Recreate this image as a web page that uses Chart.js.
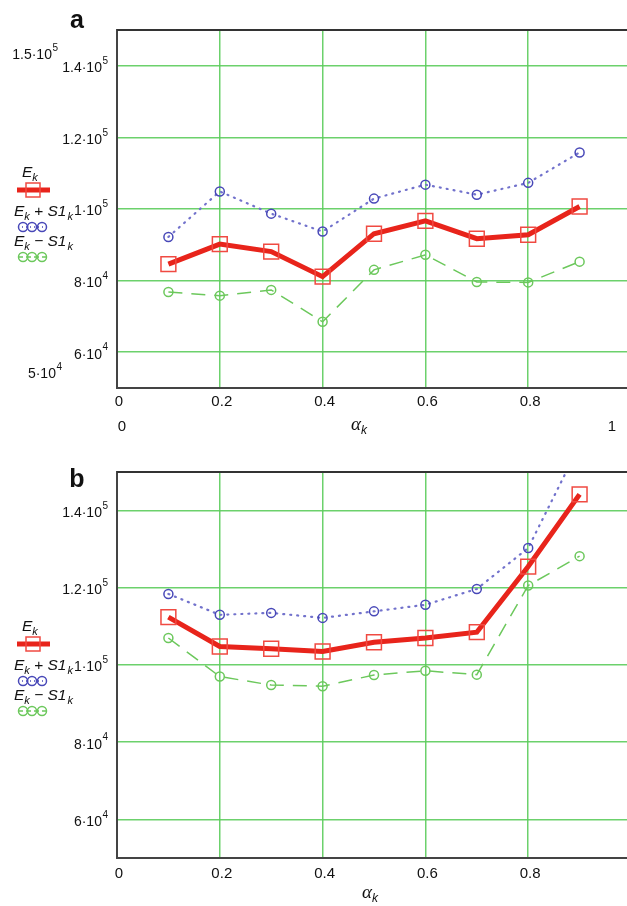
<!DOCTYPE html>
<html>
<head>
<meta charset="utf-8">
<script src="https://cdn.jsdelivr.net/npm/chart.js@4.4.1/dist/chart.umd.min.js"></script>
<style>
  html, body { margin: 0; padding: 0; background: #fff; overflow: hidden; width: 627px; height: 906px; }
  canvas { position: absolute; left: 0; }
  #chartA { top: 0; }
  #chartB { top: 445px; }
</style>
</head>
<body>
<canvas id="chartA" width="643" height="445"></canvas>
<canvas id="chartB" width="643" height="461"></canvas>
<script>
// alpha_k values (x) shared by both panels
const alphaK = [0.1, 0.2, 0.3, 0.4, 0.5, 0.6, 0.7, 0.8, 0.9];

// panel a
const ekA      = [84600, 90200, 88100, 81100, 93100, 96700, 91700, 92800, 100700];
const ekPlusA  = [92200, 104900, 98700, 93700, 102900, 106800, 104000, 107300, 115800];
const ekMinusA = [76800, 75800, 77400, 68500, 83000, 87200, 79600, 79500, 85300];

// panel b
const ekB      = [112400, 104800, 104200, 103500, 105900, 107000, 108500, 125500, 144200];
const ekPlusB  = [118400, 113000, 113500, 112200, 113900, 115600, 119700, 130300, 157000];
const ekMinusB = [107000, 97000, 94800, 94500, 97400, 98500, 97500, 120600, 128200];

const yTicks = [60000, 80000, 100000, 120000, 140000];
const xGridTicks = [0.2, 0.4, 0.6, 0.8];
const xLabelTicks = [0, 0.2, 0.4, 0.6, 0.8];

const SANS = '"Liberation Sans", Arial, sans-serif';
const RED = '#e8241b';
const BLUE = '#4848b8';
const GREEN = '#6cc85c';

function pts(vals) {
  return alphaK.map((x, i) => ({ x: x, y: vals[i] }));
}

// draws a run of text pieces (font changes, sub/superscripts) from x, middle baseline
function richText(ctx, x, y, parts) {
  ctx.textAlign = 'left';
  ctx.textBaseline = 'middle';
  parts.forEach(p => {
    ctx.font = p.f;
    ctx.fillText(p.t, x, y + (p.dy || 0));
    x += ctx.measureText(p.t).width + (p.gap || 0);
  });
}

// value like 1.4e5 -> "1.4·10" with raised "5", right aligned at xRight
function powLabel(ctx, value, xRight, yc) {
  const exp = Math.floor(Math.log10(value) + 1e-9);
  const mant = +(value / Math.pow(10, exp)).toFixed(2);
  ctx.textBaseline = 'middle';
  ctx.textAlign = 'right';
  ctx.font = '10px ' + SANS;
  const ew = ctx.measureText(String(exp)).width;
  ctx.fillText(String(exp), xRight, yc - 7);
  ctx.font = '14px ' + SANS;
  ctx.fillText(mant + '\u00b7' + '10', xRight - ew - 0.5, yc);
}

function ekParts(op) {
  const big = 'italic 15.5px ' + SANS, small = 'italic 11px ' + SANS;
  const parts = [{ t: 'E', f: big }, { t: 'k', f: small, dy: 5 }];
  if (op) {
    parts.push({ t: ' ' + op + ' ', f: '15.5px ' + SANS });
    parts.push({ t: 'S1', f: big, gap: 1 });
    parts.push({ t: 'k', f: small, dy: 5 });
  }
  return parts;
}

function legendCircles(ctx, y, color, dash) {
  ctx.save();
  ctx.strokeStyle = color;
  ctx.lineWidth = 1.5;
  ctx.setLineDash(dash);
  ctx.beginPath(); ctx.moveTo(18, y); ctx.lineTo(46, y); ctx.stroke();
  ctx.setLineDash([]);
  [23, 32, 42].forEach(cx => {
    ctx.beginPath(); ctx.arc(cx, y, 4.5, 0, Math.PI * 2); ctx.stroke();
  });
  ctx.restore();
}

const mathcadText = {
  id: 'mathcadText',
  afterDraw(chart, args, o) {
    const ctx = chart.ctx;
    const area = chart.chartArea;
    const xs = chart.scales.x, ys = chart.scales.y;
    ctx.save();

    // top frame line
    ctx.strokeStyle = '#333';
    ctx.lineWidth = 2;
    ctx.beginPath(); ctx.moveTo(area.left, area.top); ctx.lineTo(area.right, area.top); ctx.stroke();

    ctx.fillStyle = '#111';
    // y tick labels
    yTicks.forEach(v => powLabel(ctx, v, 108, ys.getPixelForValue(v) + 2.5));
    if (o.ranges) {
      powLabel(ctx, ys.max, 58, area.top + 25);
      powLabel(ctx, ys.min, 62, area.bottom - 14);
    }

    // x tick labels
    ctx.font = '15px ' + SANS;
    ctx.textAlign = 'center';
    ctx.textBaseline = 'middle';
    xLabelTicks.forEach(v => ctx.fillText(String(v), xs.getPixelForValue(v) + 2, area.bottom + o.xLabelDy));
    if (o.ranges) {
      ctx.fillText('0', 122, area.bottom + 39);
      ctx.fillText('1', 612, area.bottom + 39);
    }

    // axis title alpha_k
    richText(ctx, o.alphaX, area.bottom + o.alphaDy, [
      { t: '\u03b1', f: 'italic 19px "Liberation Serif", serif' },
      { t: 'k', f: 'italic 12px ' + SANS, dy: 6 }
    ]);

    // panel letter
    ctx.font = 'bold 25px ' + SANS;
    ctx.textAlign = 'center';
    ctx.textBaseline = 'alphabetic';
    ctx.fillText(o.letter, 77, o.letterY);

    // legend
    const L = o.legendY;
    ctx.fillStyle = '#111';
    richText(ctx, 22, L, ekParts(null));
    ctx.strokeStyle = RED;
    ctx.lineWidth = 5;
    ctx.beginPath(); ctx.moveTo(17, L + 17); ctx.lineTo(50, L + 17); ctx.stroke();
    ctx.strokeStyle = '#f04a42';
    ctx.lineWidth = 1.5;
    ctx.strokeRect(26, L + 10, 14, 14);

    richText(ctx, 14, L + 39, ekParts('+'));
    legendCircles(ctx, L + 54, BLUE, [1, 3]);
    richText(ctx, 14, L + 69, ekParts('\u2212'));
    legendCircles(ctx, L + 84, GREEN, [5, 3]);

    ctx.restore();
  }
};

function makeChart(id, ek, ekPlus, ekMinus, cfg) {
  return new Chart(document.getElementById(id), {
    type: 'line',
    data: {
      datasets: [{
        label: 'E_k',
        data: pts(ek),
        borderColor: RED,
        borderWidth: 5,
        pointStyle: 'rect',
        pointRadius: 10.5,
        pointBorderColor: '#f04a42',
        pointBorderWidth: 1.5,
        pointBackgroundColor: 'transparent',
        tension: 0
      }, {
        label: 'E_k + S1_k',
        data: pts(ekPlus),
        borderColor: '#7272cc',
        borderWidth: 2.2,
        borderDash: [1, 6],
        borderCapStyle: 'round',
        pointStyle: 'circle',
        pointRadius: 4.5,
        pointBorderColor: BLUE,
        pointBorderWidth: 1.5,
        pointBackgroundColor: 'transparent',
        tension: 0
      }, {
        label: 'E_k - S1_k',
        data: pts(ekMinus),
        borderColor: GREEN,
        borderWidth: 1.5,
        borderDash: [14, 9],
        pointStyle: 'circle',
        pointRadius: 4.5,
        pointBorderColor: GREEN,
        pointBorderWidth: 1.5,
        pointBackgroundColor: 'transparent',
        tension: 0
      }]
    },
    options: {
      responsive: false,
      animation: false,
      layout: { padding: { left: 117, top: cfg.top, right: 0, bottom: cfg.bottom } },
      scales: {
        x: {
          type: 'linear',
          min: 0,
          max: 1,
          afterBuildTicks: s => { s.ticks = xGridTicks.map(v => ({ value: v })); },
          ticks: { display: false },
          grid: { color: 'rgba(92, 204, 92, 0.9)', lineWidth: 1.5, drawTicks: false },
          border: { display: true, color: '#444', width: 2 }
        },
        y: {
          min: 50000,
          max: 150000,
          afterBuildTicks: s => { s.ticks = yTicks.map(v => ({ value: v })); },
          ticks: { display: false },
          grid: { color: 'rgba(92, 204, 92, 0.9)', lineWidth: 1.5, drawTicks: false },
          border: { display: true, color: '#444', width: 2 }
        }
      },
      plugins: {
        legend: { display: false },
        tooltip: { enabled: false },
        mathcadText: cfg.text
      }
    },
    plugins: [mathcadText]
  });
}

makeChart('chartA', ekA, ekPlusA, ekMinusA, {
  top: 30, bottom: 57,
  text: { letter: 'a', letterY: 28, legendY: 173, ranges: true, xLabelDy: 14, alphaX: 351, alphaDy: 37 }
});

makeChart('chartB', ekB, ekPlusB, ekMinusB, {
  top: 27, bottom: 48,
  text: { letter: 'b', letterY: 42, legendY: 182, ranges: false, xLabelDy: 16, alphaX: 362, alphaDy: 35 }
});
</script>
</body>
</html>
